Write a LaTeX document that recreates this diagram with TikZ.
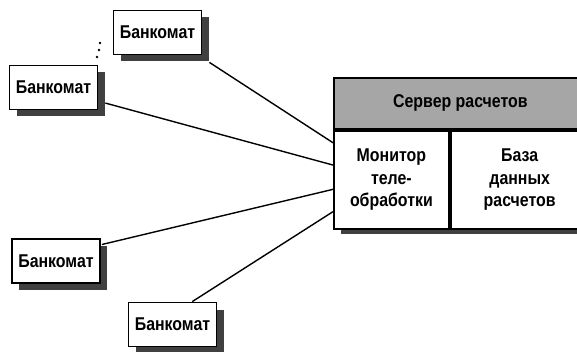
\documentclass[tikz,border=0pt]{standalone}
\usepackage{fontspec}
\setmainfont{Liberation Sans}[FakeStretch=0.86]
\usetikzlibrary{calc}
\usetikzlibrary{shadows}

\begin{document}
\begin{tikzpicture}[
	x=1pt, y=-1pt,
	every node/.style={font=\fontsize{18.5}{22.5}\selectfont\bfseries},
	box/.style = {draw, line width=1.8pt, fill=white, inner sep=0pt},
	bank/.style = {box, minimum width=88pt, minimum height=44pt,
		general shadow={fill=black!75, shadow xshift=7pt, shadow yshift=-7pt}},
	link/.style = {line width=1.4pt}
	]
	\useasboundingbox (0,0) rectangle (577,352);

	% server with its two parts
	\node[box, minimum width=253pt, minimum height=149pt, anchor=north west,
		general shadow={fill=black!75, shadow xshift=7pt, shadow yshift=-7pt}] (srv) at (333,77) {};
	\node[box, fill=black!35, minimum width=253pt, minimum height=51pt, anchor=north west] (hdr) at (333,77) {Сервер расчетов};
	\node[box, minimum width=115pt, minimum height=98pt, anchor=north west, align=center] (mon) at (hdr.south west) {Монитор\\теле-\\обработки};
	\node[box, minimum width=138pt, minimum height=98pt, anchor=north west, align=center] (db) at (mon.north east) {База\\данных\\расчетов};

	\node[bank] (b1) at (157.5,32.5) {Банкомат};
	\node[bank] (b2) at (53.5,87.5) {Банкомат};
	\node[bank] (b3) at (56,261) {Банкомат};
	\node[bank] (b4) at (172.5,324.5) {Банкомат};

	\foreach \p in {(100,43),(99,50),(97,57)}
		\fill \p circle (1.3pt);

	\draw[link] ($(b1.south east)+(7,7)$) -- ($(srv.north west)!0.436!(srv.south west)$);
	\draw[link] ($(b2.north east)!0.84!(b2.south east)+(7,0)$) -- ($(srv.north west)!0.584!(srv.south west)$);
	\draw[link] ($(b3.north east)!0.14!(b3.south east)+(1,0)$) -- ($(srv.north west)!0.745!(srv.south west)$);
	\draw[link] ($(b4.north west)!0.72!(b4.north east)$) -- ($(srv.north west)!0.893!(srv.south west)$);

\end{tikzpicture}
\end{document}
